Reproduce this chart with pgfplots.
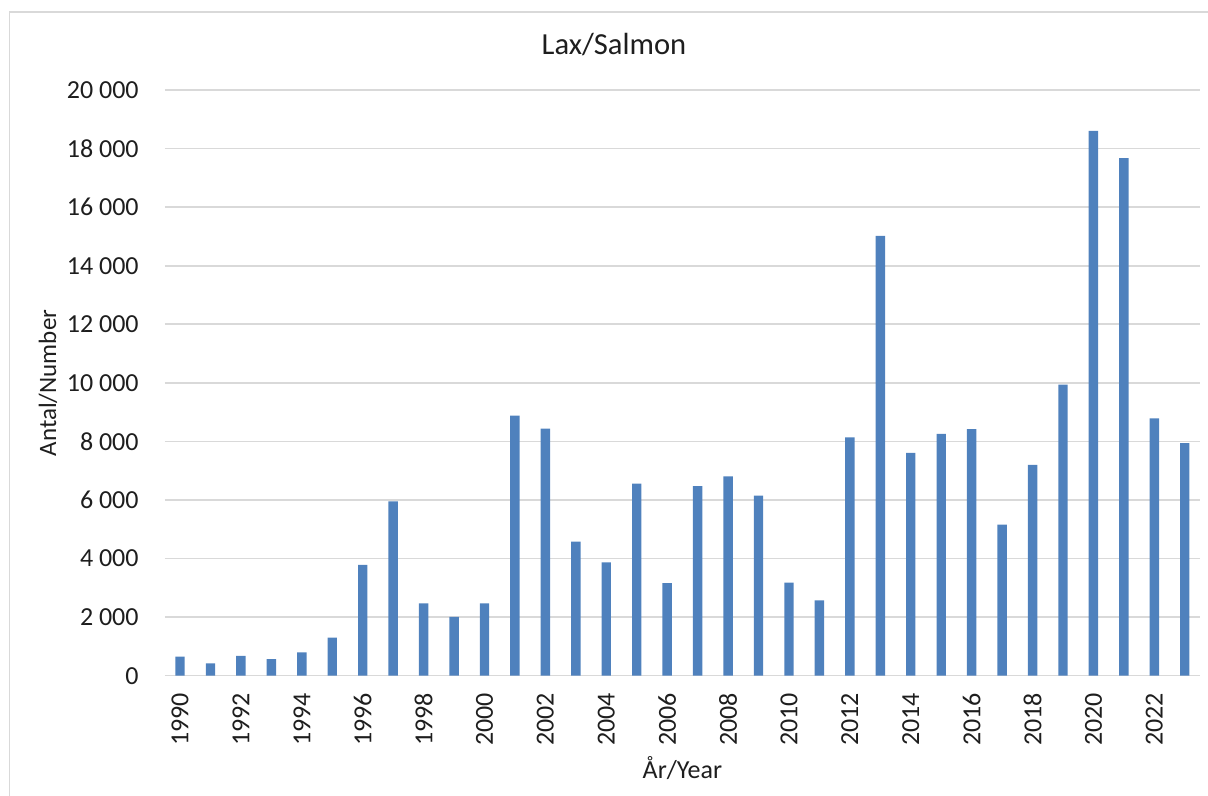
\documentclass[border=0pt]{standalone}
\usepackage{pgfplots}
\pgfplotsset{compat=1.18}
\usepackage{fontspec}
\setmainfont{Carlito}
\definecolor{barblue}{RGB}{79,129,189}
\definecolor{gridgray}{RGB}{217,217,217}
\definecolor{txt}{RGB}{30,30,30}
\begin{document}
\begin{tikzpicture}
\useasboundingbox (0,0) rectangle (604pt,398pt);
\draw[gridgray, line width=0.8pt] (4.65pt,0) -- (4.65pt,391.85pt) -- (604pt,391.85pt);
\begin{axis}[
  at={(82.4pt,60.15pt)}, anchor=south west,
  scale only axis, width=517.6pt, height=292.85pt,
  ybar, bar width=4.7pt,
  xmin=1989.5, xmax=2023.5,
  ymin=0, ymax=20000,
  xtick={1990,1992,...,2022},
  ytick={0,2000,...,20000},
  scaled y ticks=false,
  axis x line*=bottom, axis y line*=left,
  x axis line style={draw=gridgray, line width=0.8pt, -},
  y axis line style={draw=none},
  major tick length=0pt,
  ymajorgrids, major grid style={draw=gridgray, line width=0.8pt},
  /pgf/number format/assume math mode=true,
  /pgf/number format/1000 sep={\ },
  x tick label style={/pgf/number format/1000 sep={}},
  ticklabel style={font=\fontsize{13}{15}\selectfont, text=txt},
  yticklabel style={anchor=east, inner sep=0pt, xshift=-12.9pt},
  xticklabel style={yshift=-8.5pt, rotate=90, anchor=east, inner sep=0pt},
  clip=false,
]
\addplot[fill=barblue, draw=none] coordinates {
(1990,650) (1991,420) (1992,680) (1993,570) (1994,800) (1995,1300)
(1996,3780) (1997,5950) (1998,2470) (1999,2010) (2000,2470) (2001,8880)
(2002,8440) (2003,4580) (2004,3870) (2005,6560) (2006,3160) (2007,6470)
(2008,6810) (2009,6150) (2010,3180) (2011,2570) (2012,8140) (2013,15020)
(2014,7610) (2015,8260) (2016,8420) (2017,5160) (2018,7200) (2019,9940)
(2020,18600) (2021,17670) (2022,8790) (2023,7940)
};
\end{axis}
\node[anchor=base, text=txt, font=\fontsize{15.3}{18}\selectfont, inner sep=0pt] at (307pt,370.5pt) {Lax/Salmon};
\node[rotate=90, text=txt, font=\fontsize{12.5}{15}\selectfont, inner sep=0pt] at (24pt,206.5pt) {Antal/Number};
\node[text=txt, font=\fontsize{13}{15}\selectfont, inner sep=0pt] at (341.2pt,14pt) {År/Year};
\end{tikzpicture}
\end{document}
